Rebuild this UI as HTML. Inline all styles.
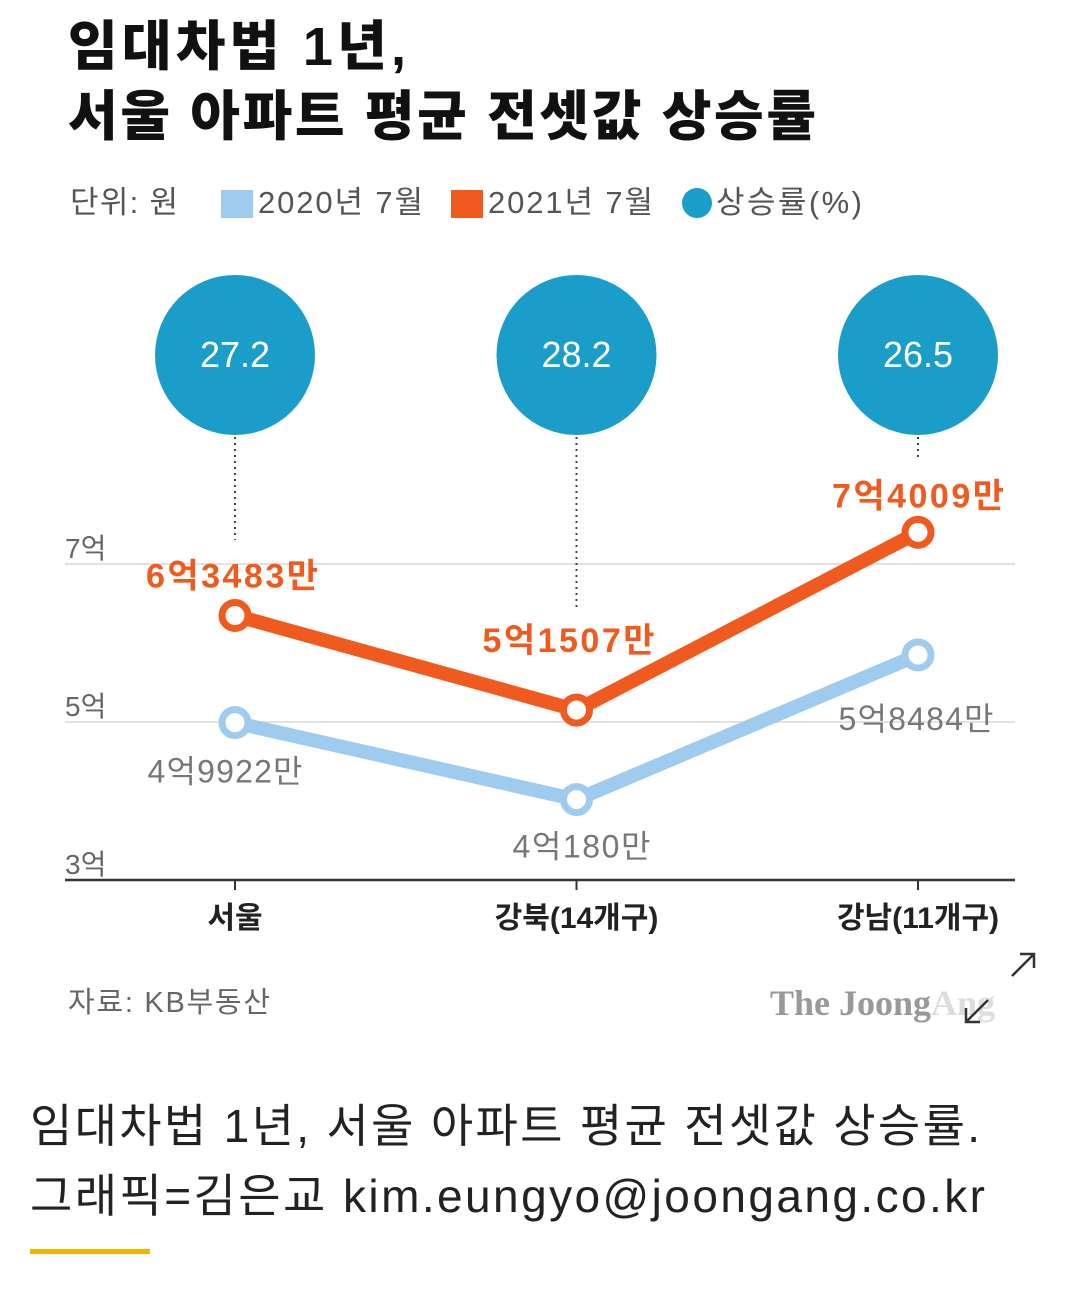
<!DOCTYPE html>
<html><head><meta charset="utf-8">
<style>
body{margin:0;background:#fff;width:1080px;height:1292px;overflow:hidden;font-family:"Liberation Sans","Noto Sans CJK KR",sans-serif;}
</style></head>
<body>
<svg width="1080" height="1292" viewBox="0 0 1080 1292" xmlns="http://www.w3.org/2000/svg" font-family="Liberation Sans, Noto Sans CJK KR, sans-serif">
<text x="68" y="65" font-size="54" font-weight="900" fill="#111" textLength="338">임대차법 1년,</text>
<text x="68" y="135" font-size="54" font-weight="900" fill="#111" textLength="748">서울 아파트 평균 전셋값 상승률</text>
<g font-size="31" fill="#555">
<text x="70" y="213" textLength="108">단위: 원</text>
<rect x="221" y="190" width="32" height="28" fill="#9ecbee"/>
<text x="258" y="213" textLength="165">2020년 7월</text>
<rect x="451" y="190" width="32" height="28" fill="#f05a1f"/>
<text x="488" y="213" textLength="165">2021년 7월</text>
<circle cx="697" cy="203" r="15" fill="#1a9dc9"/>
<text x="716" y="213" textLength="146">상승률(%)</text>
</g>
<g id="plot"></g>
<text x="68" y="1012" font-size="29" fill="#666" textLength="202">자료: KB부동산</text>
<text x="770" y="1015" font-size="36" font-weight="bold" fill="#999" font-family="Liberation Serif, serif">The Joong<tspan fill="#ddd">Ang</tspan></text>
<g stroke="#333" stroke-width="2.5" fill="none">
<path d="M1012 976 L1034 954 M1020 954 L1034 954 L1034 968"/>
<path d="M988 1000 L966 1022 M966 1008 L966 1022 L980 1022"/>
</g>
<text x="30" y="1142" font-size="46" fill="#222" textLength="950">임대차법 1년, 서울 아파트 평균 전셋값 상승률.</text>
<text x="30" y="1212" font-size="46" fill="#222" textLength="955">그래픽=김은교 kim.eungyo@joongang.co.kr</text>
<rect x="30" y="1249" width="120" height="5" fill="#f0b400"/>
</svg>
<script>
const categories=["서울","강북(14개구)","강남(11개구)"];
const values2020=[4.9922,4.018,5.8484];
const values2021=[6.3483,5.1507,7.4009];
const labels2020=["4억9922만","4억180만","5억8484만"];
const labels2021=["6억3483만","5억1507만","7억4009만"];
const rates=["27.2","28.2","26.5"];
const yTicks=[3,5,7];
const yTickLabels=["3억","5억","7억"];
const NS="http://www.w3.org/2000/svg";
const g=document.getElementById('plot');
const xPos=i=>235+i*341.5;
const yPos=v=>880-(v-3)*79;
function mk(tag,attrs,text){const e=document.createElementNS(NS,tag);for(const k in attrs)e.setAttribute(k,attrs[k]);if(text!==undefined)e.textContent=text;g.appendChild(e);return e;}
yTicks.forEach((t,i)=>{
  if(t!==3){const l=mk('line',{x1:65,x2:1015,y1:yPos(t),y2:yPos(t),stroke:'#e2e2e2','stroke-width':2});
  
  }
  const tx=mk('text',{x:65,y:yPos(t)-6,'font-size':28,fill:'#666'},yTickLabels[i]);
  
  
});
const ax=mk('line',{x1:65,x2:1015,y1:880,y2:880,stroke:'#333','stroke-width':2.5});


categories.forEach((c,i)=>{
  const tk=mk('line',{x1:xPos(i),x2:xPos(i),y1:880,y2:890,stroke:'#333','stroke-width':2});
  
  
  const t=mk('text',{x:xPos(i),y:928,'font-size':30,'font-weight':'bold','text-anchor':'middle',fill:'#222'},c);
  
  
});
function series(vals,color,name){
  const p=mk('polyline',{points:vals.map((v,i)=>xPos(i)+','+yPos(v)).join(' '),fill:'none',stroke:color,'stroke-width':14,'stroke-linejoin':'round'});
  
  
  vals.forEach((v,i)=>{
    const c=mk('circle',{cx:xPos(i),cy:yPos(v),r:13,fill:'#fff',stroke:color,'stroke-width':7});
    
    
  });
}
const dotEnd=[540,610,460];
rates.forEach((r,i)=>{
  const d=mk('line',{x1:xPos(i),x2:xPos(i),y1:437,y2:dotEnd[i],stroke:'#444','stroke-width':2,'stroke-dasharray':'2 4'});
  
  
  const c=mk('circle',{cx:xPos(i),cy:355,r:80,fill:'#1a9dc9'});
  
  
  const t=mk('text',{x:xPos(i),y:367,'font-size':36,fill:'#fff','text-anchor':'middle'},r);
  
  
});
series(values2020,'#9ecbee','series-2020');
series(values2021,'#f05a1f','series-2021');
const off2020=[[-10,60,155],[5,58,138],[-2,75,155]];
values2020.forEach((v,i)=>{
  const t=mk('text',{x:xPos(i)+off2020[i][0],y:yPos(v)+off2020[i][1],'font-size':32,fill:'#777','text-anchor':'middle',textLength:off2020[i][2]},labels2020[i]);
  
  
});
const off2021=[[-3,-28],[-8,-58],[0,-25]];
values2021.forEach((v,i)=>{
  const t=mk('text',{x:xPos(i)+off2021[i][0],y:yPos(v)+off2021[i][1],'font-size':34,'font-weight':'bold',fill:'#f05a1f','text-anchor':'middle',textLength:172},labels2021[i]);
  
  
});
</script>
</body></html>
